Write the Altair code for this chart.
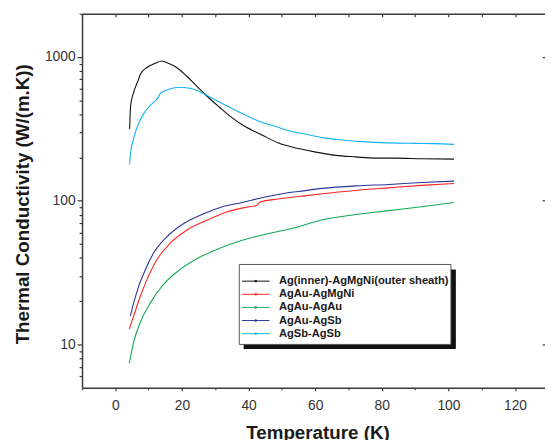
import altair as alt
import pandas as pd

# ---- data ----
names = ["Ag(inner)-AgMgNi(outer sheath)", "AgAu-AgMgNi", "AgAu-AgAu", "AgAu-AgSb", "AgSb-AgSb"]
colors = ["#111111", "#ff2424", "#12a851", "#2b3596", "#10b4f0"]

t_black = [4.3, 4.4, 4.6, 5.5, 7.0, 7.5, 9.5, 12.0, 13.9, 15.9, 18.4, 21.3, 24.3, 27.3, 31.2, 35.1,
           39.1, 44.0, 49.0, 55.3, 60.2, 66.2, 72.1, 78.0, 84.0, 91.9, 101.7]
k_black = [316, 373, 461, 569, 702, 760, 845, 904, 939, 904, 845, 741, 632, 540, 449, 377,
           327, 287, 252, 230, 218, 207, 202, 198, 198, 196, 195]

t_red = [4.2, 5.5, 7.5, 9.5, 12.4, 16.4, 21.3, 27.3, 33.2, 39.1, 42.5, 43.5, 49.0, 54.9, 62.2,
         72.1, 82.0, 91.9, 101.7]
k_red = [12.8, 15.8, 21.7, 28.3, 38.7, 50.5, 62.2, 72.9, 83.2, 90, 93, 98, 103, 107, 112,
         118, 123, 128, 132]

t_green = [4.2, 5.5, 7.5, 10.5, 14.4, 19.3, 25.3, 31.2, 38.1, 45.0, 53.9, 62.2, 72.1, 82.0, 91.9, 101.7]
k_green = [7.4, 10.4, 14.3, 19.5, 26.1, 33.1, 40.5, 46.6, 53.1, 58.5, 65, 73.8, 80.2, 85.4, 91, 97.3]

t_blue = [4.5, 5.5, 7.0, 9.0, 11.4, 15.4, 20.3, 26.3, 32.2, 38.1, 44.0, 51.0, 54.9, 62.2, 72.1,
          82.0, 91.9, 101.7]
k_blue = [15.8, 19.5, 25.4, 33.1, 43, 56, 69, 81, 91, 97.3, 105, 113, 116, 122, 127,
          130, 134, 137]

t_cyan = [4.3, 4.5, 5.5, 7.0, 8.5, 10.5, 12.9, 13.4, 15.4, 19.3, 23.3, 27.3, 31.2, 37.1, 43.1,
          48.4, 52.3, 57.3, 62.2, 68.1, 74.1, 82.0, 89.9, 95.8, 101.7]
k_cyan = [179, 209, 272, 345, 404, 461, 526, 554, 590, 616, 599, 545, 486, 415, 358,
          327, 306, 290, 275, 265, 258, 253, 251, 250, 247]

x_major = [0, 20, 40, 60, 80, 100, 120]
x_minor = [-10, 10, 30, 50, 70, 90, 110]
x_all = [-10, 0, 10, 20, 30, 40, 50, 60, 70, 80, 90, 100, 110, 120]
y_major = [10, 100, 1000]
y_minor = [6, 7, 8, 9, 20, 30, 40, 50, 60, 70, 80, 90, 200, 300, 400, 500, 600, 700, 800, 900, 2000]

series = [(names[0], t_black, k_black), (names[1], t_red, k_red), (names[2], t_green, k_green),
          (names[3], t_blue, k_blue), (names[4], t_cyan, k_cyan)]
rows = []
for nm, ts, ks in series:
    for i, (t, k) in enumerate(zip(ts, ks)):
        rows.append({"T": t, "K": k, "Sample": nm, "i": i})
df = pd.DataFrame(rows)

FONT = "Liberation Sans"
AX = "#3a3a3a"

xscale = alt.Scale(domain=[-10, 129], nice=False, zero=False)
yscale = alt.Scale(type="log", domain=[5, 2000], nice=False)

base = alt.Chart(df)

lines = base.mark_line(strokeWidth=1.1, interpolate="monotone").encode(
    x=alt.X("T:Q", scale=xscale, title="Temperature (K)",
            axis=alt.Axis(orient="bottom", values=x_major, format="d", tickSize=3,
                          labelPadding=8, titlePadding=11, domain=True,
                          titleX=238.5, titleAlign="center")),
    y=alt.Y("K:Q", scale=yscale, title="Thermal Conductivity (W/(m.K))",
            axis=alt.Axis(orient="left", values=y_major, format="d", tickSize=5,
                          labelPadding=2, titlePadding=12, domain=True,
                          titleY=192.5, titleAlign="center")),
    color=alt.Color("Sample:N", sort=names,
                    scale=alt.Scale(domain=names, range=colors),
                    legend=alt.Legend(orient="none", legendX=159.3, legendY=259.0, title=None,
                                      padding=5.4,
                                      symbolType="M-2.37,0H2.37M-0.12,-0.12H0.12V0.12H-0.12Z",
                                      symbolSize=139, symbolStrokeWidth=1,
                                      symbolOffset=4.8, labelOffset=17, rowPadding=1.3,
                                      labelFont=FONT, labelFontWeight="bold", labelFontSize=11.3,
                                      labelColor="#1a1a1a", labelLimit=300)),
    order="i:Q",
)

minor = base.mark_line(opacity=0).encode(
    x=alt.X("T:Q", scale=xscale, title=None,
            axis=alt.Axis(orient="bottom", values=x_minor, labels=False, tickSize=2, domain=False)),
    y=alt.Y("K:Q", scale=yscale, title=None,
            axis=alt.Axis(orient="left", values=y_minor, labels=False, tickSize=3, domain=False)),
    detail="Sample:N",
)

frame = base.mark_line(opacity=0).encode(
    x=alt.X("T:Q", scale=xscale, title=None,
            axis=alt.Axis(orient="top", values=x_all, labels=False, ticks=False, domain=True)),
    y=alt.Y("K:Q", scale=yscale, title=None,
            axis=alt.Axis(orient="right", values=y_major, labels=False, tickSize=3,
                          offset=-3, domain=False)),
    detail="Sample:N",
)

topticks = base.mark_line(opacity=0).encode(
    x=alt.X("T:Q", scale=xscale, title=None,
            axis=alt.Axis(orient="top", values=x_all, labels=False, tickSize=3,
                          offset=-3, domain=False)),
    y=alt.Y("K:Q", scale=yscale, axis=None),
    detail="Sample:N",
)

# legend frame with its drop shadow (decoration only)
deco = pd.DataFrame({"s": [0]})
shadow = alt.Chart(deco).mark_rect(color="#111111").encode(
    x=alt.value(163.7), x2=alt.value(378.7), y=alt.value(259.0), y2=alt.value(339.7)
)
legend_box = alt.Chart(deco).mark_rect(fill="white", stroke="#555555", strokeWidth=1).encode(
    x=alt.value(159.3), x2=alt.value(373.7), y=alt.value(254.0), y2=alt.value(335.0)
)

chart = alt.layer(minor, frame, topticks, lines, shadow, legend_box).resolve_axis(
    x="independent", y="independent"
).properties(
    width=469, height=379,
    padding={"left": 75, "top": 3, "right": 0, "bottom": 50},
    autosize=alt.AutoSizeParams(type="none"),
).configure_view(stroke=None).configure_axis(
    grid=False, domainColor=AX, domainWidth=1.5, tickColor=AX, tickWidth=1.2,
    labelFont=FONT, labelFontSize=14, labelColor="#333333",
    titleFont=FONT, titleFontSize=19, titleFontWeight="bold", titleColor="#1a1a1a",
)

chart.save("out.html", embed_options={"renderer": "svg", "actions": False})
